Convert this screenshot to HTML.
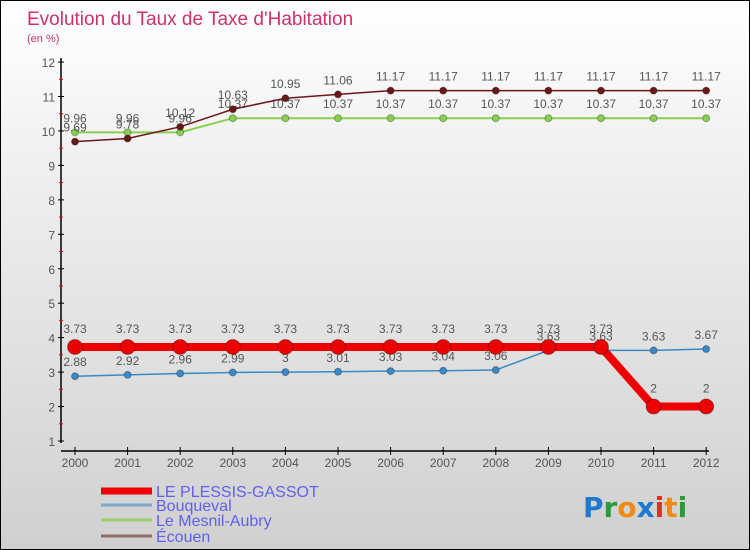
<!DOCTYPE html>
<html><head><meta charset="utf-8"><style>
body{margin:0}
#c{width:748px;height:548px;border:1px solid #000;background:linear-gradient(#fff,#f2f2f2 25%,#d0d0d0);position:relative;overflow:hidden;font-family:"Liberation Sans",sans-serif}
svg text{font-family:"Liberation Sans",sans-serif}
</style></head><body>
<div id="c">
<svg width="748" height="548" id="s">
<text x="26" y="24" font-size="19" fill="#d0306a">Evolution du Taux de Taxe d'Habitation</text>
<text x="26" y="41" font-size="11" fill="#d0306a">(en %)</text>
<g id="g"></g>
<g font-size="28" font-weight="bold">
<text x="582" y="516" style="font-family:'DejaVu Sans',sans-serif"><tspan fill="#1e7ad0">P</tspan><tspan fill="#2a9a3a">r</tspan><tspan fill="#f08a10">o</tspan><tspan fill="#1e7ad0">x</tspan><tspan fill="#e03020">i</tspan><tspan fill="#f08a10">t</tspan><tspan fill="#2a9a3a">i</tspan></text>
</g>
</svg>
</div>
<script>
const years=[2000,2001,2002,2003,2004,2005,2006,2007,2008,2009,2010,2011,2012];
const plessis=[3.73,3.73,3.73,3.73,3.73,3.73,3.73,3.73,3.73,3.73,3.73,2,2];
const bouqueval=[2.88,2.92,2.96,2.99,3,3.01,3.03,3.04,3.06,3.63,3.63,3.63,3.67];
const mesnil=[9.96,9.96,9.96,10.37,10.37,10.37,10.37,10.37,10.37,10.37,10.37,10.37,10.37];
const ecouen=[9.69,9.78,10.12,10.63,10.95,11.06,11.17,11.17,11.17,11.17,11.17,11.17,11.17];
const yTicks=[1,2,3,4,5,6,7,8,9,10,11,12];
const NS="http://www.w3.org/2000/svg",g=document.getElementById('g');
const X=i=>74+i*52.6, Y=v=>440-(v-1)*34.45;
function el(t,a,p){const e=document.createElementNS(NS,t);for(const k in a)e.setAttribute(k,a[k]);(p||g).appendChild(e);return e;}
let ax=el('line',{x1:60,y1:57,x2:60,y2:442,stroke:'#000','stroke-width':1.5});


let xa=el('line',{x1:60,y1:450,x2:708,y2:450,stroke:'#000','stroke-width':1.5});


yTicks.forEach(v=>{
 el('line',{x1:57,y1:Y(v),x2:63,y2:Y(v),stroke:'#000'});
 if(v<12)el('line',{x1:58,y1:Y(v+0.5),x2:62,y2:Y(v+0.5),stroke:'#e00'});
 const t=el('text',{x:54,y:Y(v)+5,'font-size':12,fill:'#555','text-anchor':'end'});t.textContent=v;
 
 
});
years.forEach((yr,i)=>{
 el('line',{x1:X(i),y1:446,x2:X(i),y2:454,stroke:'#000'});
 const t=el('text',{x:X(i),y:466,'font-size':12,fill:'#555','text-anchor':'middle'});t.textContent=yr;
 
 
});
function series(d,col,lw,r,name,dy){
 const p=el('polyline',{points:d.map((v,i)=>X(i)+','+Y(v)).join(' '),fill:'none',stroke:col,'stroke-width':lw});
 
 
 d.forEach((v,i)=>{
  const c=el('circle',{cx:X(i),cy:Y(v),r:r,fill:col,stroke:'rgba(0,0,0,0.3)','stroke-width':1});
  
  
  const t=el('text',{x:X(i),y:Y(v)-dy,'font-size':12,fill:'#555','text-anchor':'middle'});t.textContent=v;
  
  
 });
}
series(bouqueval,'#3a8ac8',1.5,3.5,'bouqueval',10);
series(mesnil,'#88d050',2,3.5,'mesnil',10);
series(ecouen,'#6a1818',1.5,3.5,'ecouen',10);
series(plessis,'#ee0000',8,7.5,'plessis',14);
const leg=[['LE PLESSIS-GASSOT','#ee0000',7,493],['Bouqueval','#7aaacc',3,507],['Le Mesnil-Aubry','#9ad070',3,522],['Écouen','#906868',3,538]];
leg.forEach(l=>{
 const ln=el('line',{x1:100,y1:l[3]-3,x2:151,y2:l[3]-3,stroke:l[1],'stroke-width':l[2]});
 
 
 const t=el('text',{x:155,y:l[3]+3,'font-size':16,fill:'#6060ee'});t.textContent=l[0];
 
 
});
</script>
</body></html>
